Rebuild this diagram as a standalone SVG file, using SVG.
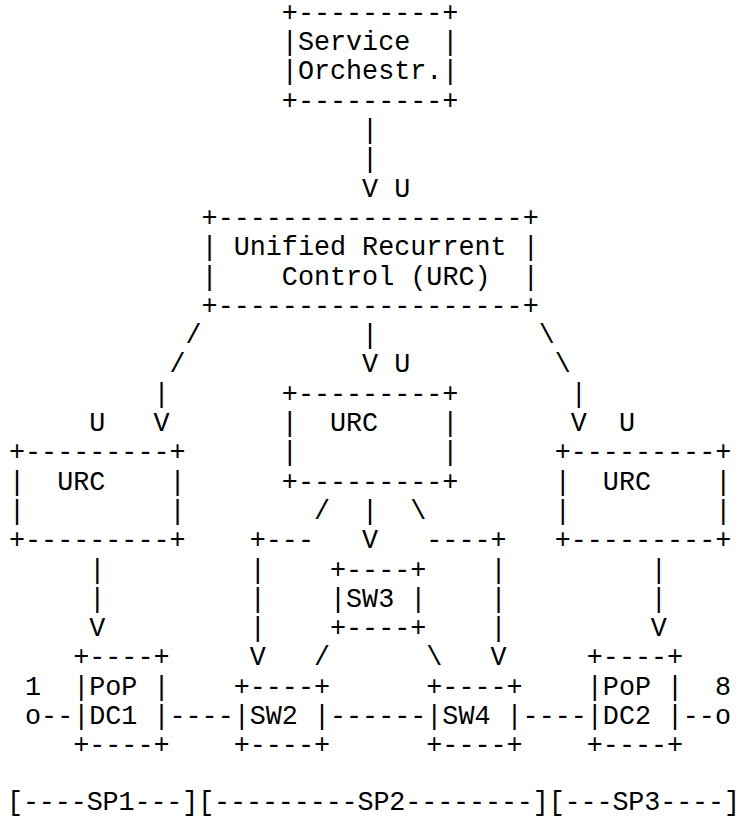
<svg xmlns="http://www.w3.org/2000/svg" width="742" height="818" viewBox="0 0 742 818" xml:space="preserve">
<style>
text{font-family:"Liberation Mono","DejaVu Sans Mono",monospace;font-size:26.75px;fill:#000;white-space:pre}
</style>
<rect width="742" height="818" fill="#fff"/>
<g id="service-orchestrator">
<text x="281.85" y="20.8">+---------+</text>
<text x="281.85" y="50.1">|Service  |</text>
<text x="281.85" y="79.4">|Orchestr.|</text>
<text x="281.85" y="108.7">+---------+</text>
</g>
<g id="urc-main">
<text x="201.6" y="225.9">+-------------------+</text>
<text x="201.6" y="255.2">| Unified Recurrent |</text>
<text x="201.6" y="284.5">|    Control (URC)  |</text>
<text x="201.6" y="313.8">+-------------------+</text>
</g>
<g id="urc-left">
<text x="9" y="460.3">+---------+</text>
<text x="9" y="489.6">|  URC    |</text>
<text x="9" y="518.9">|         |</text>
<text x="9" y="548.2">+---------+</text>
</g>
<g id="urc-middle">
<text x="281.85" y="401.7">+---------+</text>
<text x="281.85" y="431">|  URC    |</text>
<text x="281.85" y="460.3">|         |</text>
<text x="281.85" y="489.6">+---------+</text>
</g>
<g id="urc-right">
<text x="554.7" y="460.3">+---------+</text>
<text x="554.7" y="489.6">|  URC    |</text>
<text x="554.7" y="518.9">|         |</text>
<text x="554.7" y="548.2">+---------+</text>
</g>
<g id="sw3">
<text x="330" y="577.5">+----+</text>
<text x="330" y="606.8">|SW3 |</text>
<text x="330" y="636.1">+----+</text>
</g>
<g id="pop-dc1">
<text x="73.2" y="665.4">+----+</text>
<text x="73.2" y="694.7">|PoP |</text>
<text x="73.2" y="724">|DC1 |</text>
<text x="73.2" y="753.3">+----+</text>
</g>
<g id="sw2">
<text x="233.7" y="694.7">+----+</text>
<text x="233.7" y="724">|SW2 |</text>
<text x="233.7" y="753.3">+----+</text>
</g>
<g id="sw4">
<text x="426.3" y="694.7">+----+</text>
<text x="426.3" y="724">|SW4 |</text>
<text x="426.3" y="753.3">+----+</text>
</g>
<g id="pop-dc2">
<text x="586.8" y="665.4">+----+</text>
<text x="586.8" y="694.7">|PoP |</text>
<text x="586.8" y="724">|DC2 |</text>
<text x="586.8" y="753.3">+----+</text>
</g>
<g id="connectors">
<text x="362.1" y="138">|</text>
<text x="362.1" y="167.3">|</text>
<text x="362.1" y="196.6">V U</text>
<text x="185.55" y="343.1">/</text>
<text x="362.1" y="343.1">|</text>
<text x="538.65" y="343.1">\</text>
<text x="169.5" y="372.4">/</text>
<text x="362.1" y="372.4">V U</text>
<text x="554.7" y="372.4">\</text>
<text x="153.45" y="401.7">|</text>
<text x="570.75" y="401.7">|</text>
<text x="89.25" y="431">U   V</text>
<text x="570.75" y="431">V  U</text>
<text x="313.95" y="518.9">/  |  \</text>
<text x="249.75" y="548.2">+---</text>
<text x="362.1" y="548.2">V</text>
<text x="426.3" y="548.2">----+</text>
<text x="89.25" y="577.5">|</text>
<text x="249.75" y="577.5">|</text>
<text x="490.5" y="577.5">|</text>
<text x="650.7" y="577.5">|</text>
<text x="89.25" y="606.8">|</text>
<text x="249.75" y="606.8">|</text>
<text x="490.5" y="606.8">|</text>
<text x="650.7" y="606.8">|</text>
<text x="89.25" y="636.1">V</text>
<text x="249.75" y="636.1">|</text>
<text x="490.5" y="636.1">|</text>
<text x="650.7" y="636.1">V</text>
<text x="249.75" y="665.4">V</text>
<text x="313.95" y="665.4">/</text>
<text x="426.3" y="665.4">\</text>
<text x="490.5" y="665.4">V</text>
<text x="25.05" y="694.7">1</text>
<text x="714.9" y="694.7">8</text>
<text x="25.05" y="724">o--</text>
<text x="169.5" y="724">----</text>
<text x="330" y="724">------</text>
<text x="522.6" y="724">----</text>
<text x="682.8" y="724">--o</text>
</g>
<g id="segments">
<text x="7" y="810" textLength="733" lengthAdjust="spacing">[----SP1---][---------SP2--------][---SP3----]</text>
</g>
</svg>
